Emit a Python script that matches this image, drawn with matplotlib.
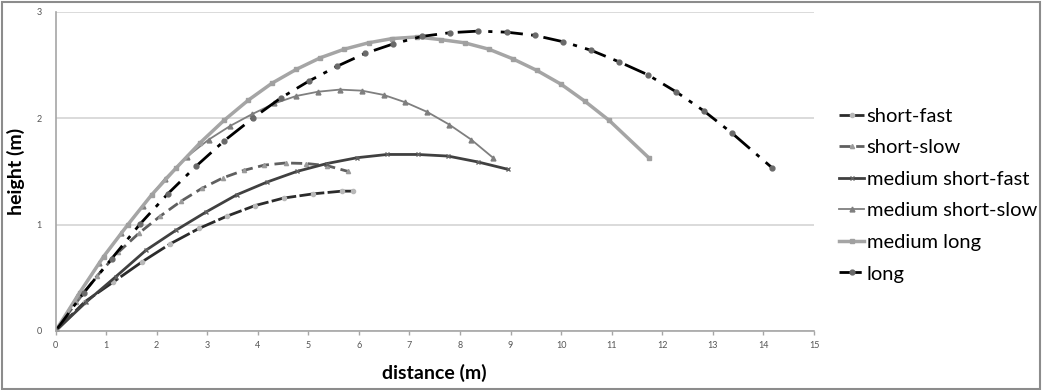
import matplotlib
matplotlib.use("Agg")
import matplotlib.pyplot as plt
from matplotlib.patches import Rectangle

plt.rcParams['font.family'] = ['Lato', 'DejaVu Sans']

# data
short_fast_x = [0, 0.58, 1.14, 1.71, 2.27, 2.84, 3.39, 3.95, 4.51, 5.10, 5.66, 5.89]
short_fast_y = [0, 0.275, 0.46, 0.65, 0.82, 0.965, 1.08, 1.18, 1.25, 1.29, 1.315, 1.315]

short_slow_x = [0, 0.413, 0.826, 1.24, 1.65, 2.07, 2.48, 2.89, 3.31, 3.72, 4.13, 4.55, 4.96, 5.37, 5.79]
short_slow_y = [0, 0.27, 0.52, 0.74, 0.92, 1.08, 1.22, 1.34, 1.44, 1.51, 1.56, 1.58, 1.575, 1.555, 1.50]

med_short_fast_x = [0, 0.6, 1.19, 1.79, 2.39, 2.98, 3.58, 4.18, 4.77, 5.37, 5.97, 6.56, 7.16, 7.76, 8.35, 8.95]
med_short_fast_y = [0, 0.27, 0.51, 0.76, 0.95, 1.12, 1.28, 1.40, 1.50, 1.575, 1.63, 1.66, 1.66, 1.645, 1.59, 1.52]

med_short_slow_x = [0, 0.43, 0.865, 1.30, 1.73, 2.16, 2.60, 3.03, 3.46, 3.89, 4.33, 4.76, 5.19,
                    5.62, 6.06, 6.49, 6.92, 7.35, 7.79, 8.22, 8.65]
med_short_slow_y = [0, 0.33, 0.64, 0.92, 1.18, 1.43, 1.64, 1.80, 1.93, 2.04, 2.14, 2.21, 2.25,
                    2.27, 2.26, 2.22, 2.15, 2.06, 1.94, 1.80, 1.63]

med_long_x = [0, 0.476, 0.95, 1.43, 1.90, 2.38, 2.86, 3.33, 3.81, 4.28, 4.76, 5.24, 5.71, 6.19,
              6.66, 7.14, 7.62, 8.09, 8.57, 9.04, 9.52, 10.0, 10.47, 10.95, 11.73]
med_long_y = [0, 0.36, 0.70, 1.00, 1.28, 1.53, 1.77, 1.98, 2.17, 2.33, 2.46, 2.57, 2.65, 2.71,
              2.75, 2.765, 2.74, 2.71, 2.65, 2.56, 2.45, 2.32, 2.16, 1.98, 1.63]

long_x = [0, 0.557, 1.11, 1.67, 2.22, 2.78, 3.34, 3.90, 4.45, 5.01, 5.57, 6.12, 6.68, 7.24, 7.80,
          8.36, 8.92, 9.48, 10.04, 10.59, 11.15, 11.71, 12.27, 12.82, 13.38, 14.17]
long_y = [0, 0.36, 0.68, 1.005, 1.29, 1.55, 1.79, 2.00, 2.19, 2.35, 2.49, 2.61, 2.70, 2.77, 2.805,
          2.82, 2.81, 2.78, 2.72, 2.64, 2.53, 2.41, 2.25, 2.07, 1.86, 1.535]

fig = plt.figure(figsize=(10.44, 3.9), dpi=100)
ax = fig.add_axes([0.0532, 0.1513, 0.7265, 0.818])

ax.plot(short_fast_x, short_fast_y, color='#2b2b2b', lw=2, dashes=(9, 1.2),
        marker='o', ms=3, mfc='#b8b8b8', mec='#b8b8b8', label='short-fast')
ax.plot(short_slow_x, short_slow_y, color='#5f5f5f', lw=2, dashes=(4, 2),
        marker='^', ms=3, mfc='#9a9a9a', mec='#9a9a9a', label='short-slow')
ax.plot(med_short_fast_x, med_short_fast_y, color='#404040', lw=2,
        marker='x', ms=3, mec='#606060', mew=1, label='medium short-fast')
ax.plot(med_short_slow_x, med_short_slow_y, color='#7f7f7f', lw=1.3,
        marker='^', ms=3.5, mfc='#7f7f7f', mec='#7f7f7f', label='medium short-slow')
ax.plot(med_long_x, med_long_y, color='#a5a5a5', lw=2.5,
        marker='s', ms=3.5, mfc='#a0a0a0', mec='#a0a0a0', label='medium long')
ax.plot(long_x, long_y, color='black', lw=2, dashes=(8, 3, 1.5, 3),
        marker='o', ms=3.5, mfc='#6a6a6a', mec='#6a6a6a', label='long')

ax.set_xlim(0, 15)
ax.set_ylim(0, 3)
ax.set_xticks(range(0, 16))
ax.set_yticks([0, 1, 2, 3])
ax.grid(axis='y', color='#d4d4d4', lw=1.2)
ax.set_axisbelow(True)
for s in ['top', 'right']:
    ax.spines[s].set_visible(False)
for s in ['left', 'bottom']:
    ax.spines[s].set_color('#a6a6a6')
    ax.spines[s].set_linewidth(1.2)
ax.tick_params(axis='both', labelsize=6.5, colors='#a6a6a6', labelcolor='#555555',
               length=3, width=1, direction='out')
ax.tick_params(axis='y', length=0, pad=10)
ax.tick_params(axis='x', pad=4)

ax.set_xlabel('distance (m)', fontsize=14, fontweight='bold', labelpad=10)
ax.set_ylabel('height (m)', fontsize=14, fontweight='bold', labelpad=8)

fig.legend(loc='center left', bbox_to_anchor=(0.796, 0.5), frameon=False,
           fontsize=14.5, handlelength=1.25, handletextpad=0.12, labelspacing=0.72,
           borderaxespad=0)

fig.patches.append(Rectangle((1.5, 1.5), 1038, 387, transform=None, fill=False,
                             edgecolor='#8c8c8c', lw=1.5))

fig.savefig('out.png', dpi=100)
